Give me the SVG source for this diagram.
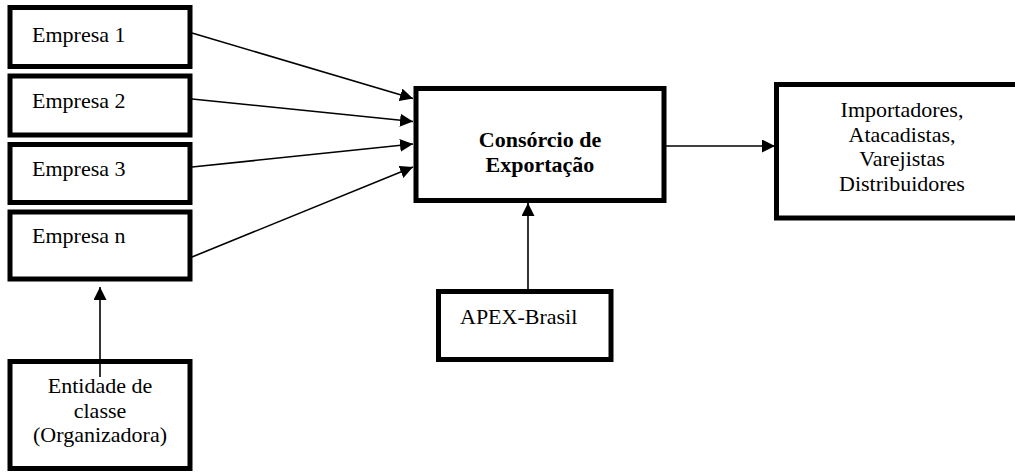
<svg xmlns="http://www.w3.org/2000/svg" width="1015" height="472" viewBox="0 0 1015 472">
<defs>
<style>
.box{fill:#fff;stroke:#000;stroke-width:5}
text{font-family:'Liberation Serif','Times New Roman','DejaVu Serif',serif;font-size:22px;fill:#000}
.c{text-anchor:middle}
.b{font-weight:bold}
.ln{stroke:#000;stroke-width:1.6;fill:none}
</style>
<marker id="ah" markerWidth="14" markerHeight="14" refX="13" refY="6.5" orient="auto" markerUnits="userSpaceOnUse"><path d="M0,0 L13,6.5 L0,13 z" fill="#000"/></marker>
</defs>
<rect width="1015" height="472" fill="#fff"/>
<g font-family="Liberation Serif, serif">
<g id="empresa1"><rect class="box" x="10" y="7.5" width="180" height="59"/><text x="32" y="42">Empresa 1</text></g>
<g id="empresa2"><rect class="box" x="10" y="76" width="180" height="59"/><text x="32" y="108">Empresa 2</text></g>
<g id="empresa3"><rect class="box" x="10" y="144.5" width="180" height="58"/><text x="32" y="176">Empresa 3</text></g>
<g id="empresan"><rect class="box" x="10" y="212" width="180" height="67"/><text x="32" y="243">Empresa n</text></g>
<g id="consorcio"><rect class="box" x="416" y="88.5" width="248" height="112"/><text class="c b" x="540" y="147">Consórcio de</text><text class="c b" x="540" y="172">Exportação</text></g>
<g id="distribuidores"><rect class="box" x="776.5" y="84.5" width="252" height="133.5"/><text class="c" x="902" y="117">Importadores,</text><text class="c" x="902" y="141.5">Atacadistas,</text><text class="c" x="902" y="166">Varejistas</text><text class="c" x="902" y="190.5">Distribuidores</text></g>
<g id="apex"><rect class="box" x="438.5" y="291.5" width="172.5" height="68"/><text x="460" y="324">APEX-Brasil</text></g>
<g id="entidade"><rect class="box" x="10" y="361.5" width="180" height="107"/><text class="c" x="100" y="393">Entidade de</text><text class="c" x="100" y="417.5">classe</text><text class="c" x="100" y="442">(Organizadora)</text></g>
</g>
<g id="connectors">
<line class="ln" x1="192" y1="33" x2="413" y2="98.5" marker-end="url(#ah)"/>
<line class="ln" x1="192" y1="99" x2="413" y2="121.5" marker-end="url(#ah)"/>
<line class="ln" x1="192" y1="167" x2="413" y2="144" marker-end="url(#ah)"/>
<line class="ln" x1="192" y1="257" x2="413" y2="167" marker-end="url(#ah)"/>
<line class="ln" x1="666" y1="146" x2="775" y2="146" marker-end="url(#ah)"/>
<line class="ln" x1="528" y1="289" x2="528" y2="203" marker-end="url(#ah)"/>
<line class="ln" x1="100" y1="377" x2="100" y2="287" marker-end="url(#ah)"/>
</g>
</svg>
